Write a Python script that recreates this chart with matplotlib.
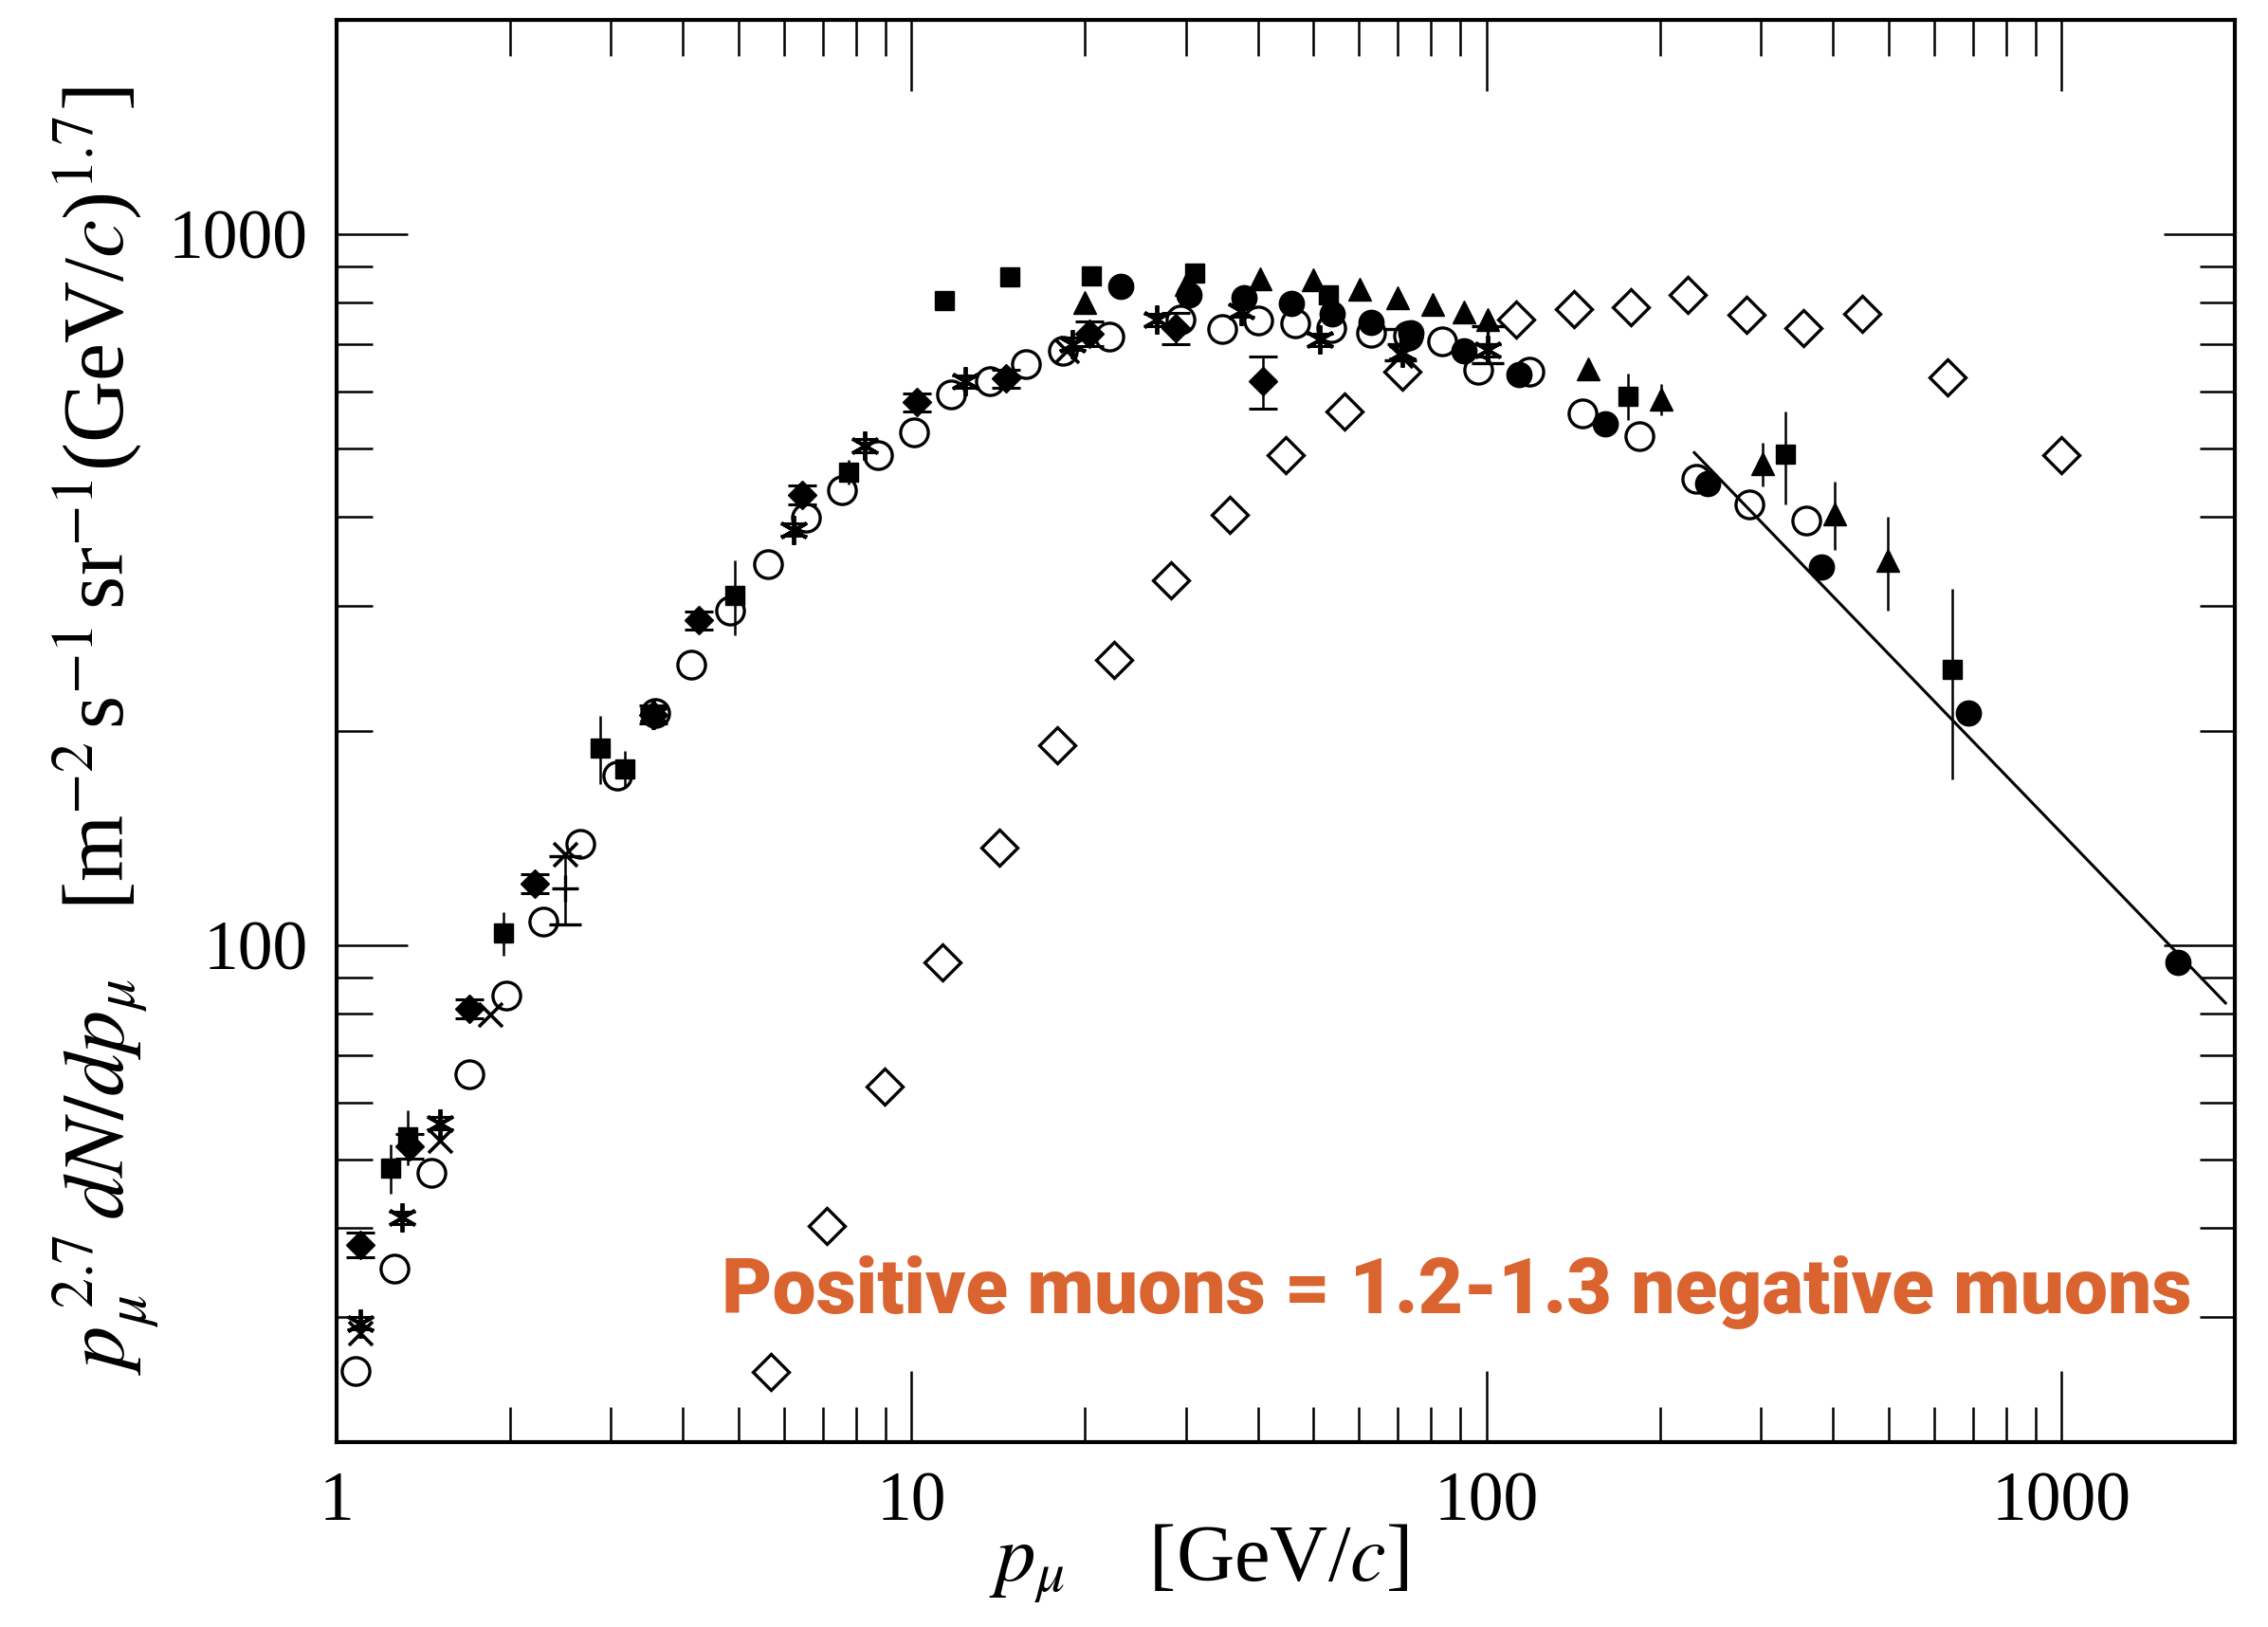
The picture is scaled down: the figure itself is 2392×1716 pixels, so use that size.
import numpy as np
import matplotlib
matplotlib.use("Agg")
import matplotlib.pyplot as plt
from matplotlib.ticker import LogLocator, NullFormatter

plt.rcParams['font.family'] = 'serif'
plt.rcParams['font.serif'] = ['Liberation Serif', 'DejaVu Serif']
plt.rcParams['mathtext.fontset'] = 'stix'

# open circles
oc_x = [1.08, 1.26, 1.46, 1.70, 1.97, 2.29, 2.65, 3.08, 3.58, 4.14, 4.84, 5.63, 6.54, 7.56, 8.74,
        10.1, 11.7, 13.7, 15.8, 18.3, 22.1, 29.3, 34.7, 40.1, 46.4, 53.6, 63.0, 72.9, 83.7, 96.8,
        118.6, 147, 184, 231, 286, 359]
oc_y = [25.2, 35.1, 47.9, 65.9, 84.9, 108, 139, 173, 212, 248, 295, 343, 399, 436, 488,
        526, 594, 620, 656, 684, 717, 758, 734, 755, 748, 737, 727, 720, 707, 644,
        641, 559, 519, 453, 416, 395]

# filled circles
fc_x = [23.1, 30.4, 37.9, 45.8, 53.9, 63.0, 73.7, 91.3, 113.9, 161, 242, 382, 687, 1591]
fc_y = [845, 821, 814, 798, 773, 751, 727, 684, 634, 541, 446, 340, 212, 94.5]

# filled squares (relative errors)
sq_x = [1.24, 1.33, 1.95, 2.87, 3.17, 4.92, 7.78, 11.4, 14.8, 20.5, 31.1, 53.0, 176, 331, 644]
sq_y = [48.6, 53.8, 104, 189, 177, 310, 463, 806, 869, 873, 881, 821, 591, 490, 244]
sq_err = [0.08, 0.09, 0.07, 0.11, 0.06, 0.12, 0.04, 0, 0, 0, 0, 0, 0.075, 0.15, 0.30]

# filled triangles
tr_x = [20.0, 30.0, 40.4, 50.0, 60.2, 70.0, 80.4, 91.3, 100.2, 150, 201, 302, 403, 499]
tr_y = [802, 849, 865, 861, 837, 814, 795, 776, 758, 647, 586, 475, 404, 348]
tr_err = [0.02, 0, 0, 0, 0, 0.03, 0, 0.02, 0.03, 0.03, 0.05, 0.07, 0.11, 0.15]

# open diamonds
od_x = [5.69, 7.13, 8.99, 11.3, 14.2, 17.9, 22.5, 28.3, 35.7, 44.8, 56.5, 71.2,
        112.5, 142, 178, 224, 283, 355, 450, 633, 1000]
od_y = [25.1, 40.3, 63.2, 94.5, 137, 191, 252, 326, 403, 488, 562, 641,
        758, 784, 788, 821, 769, 737, 773, 629, 488]

# filled diamonds with capped errors
fd_x = [1.10, 1.34, 1.70, 2.21, 3.56, 4.26, 6.46, 10.2, 14.6, 20.4, 28.8, 40.8]
fd_y = [37.9, 52.1, 81.4, 122, 211, 286, 430, 580, 626, 724, 737, 620]
fd_err = [0.04, 0.04, 0.03, 0.03, 0.03, 0.03, 0.03, 0.03, 0.03, 0.04, 0.05, 0.085]

# asterisks
as_x = [1.10, 1.30, 1.51, 3.56, 6.24, 8.29, 12.4, 19.0, 26.7, 37.4, 51.2, 71.2, 100.2]
as_y = [29.4, 41.4, 56.2, 211, 384, 504, 620, 700, 758, 780, 710, 681, 687]

# crosses
cx_x = [1.10, 1.51, 1.85, 2.50, 18.6, 70.8]
cx_y = [28.5, 53.1, 79.8, 134, 684, 675]

# plus with capped errors
pl_x = [2.50, 70.8, 100.2]
pl_y = [120, 700, 700]
pl_err = [0.11, 0.05, 0.06]

# power-law line
line_x = [229.6, 1926]
line_y = [492.6, 82.9]

xticks = [1, 10, 100, 1000]
xtick_labels = ['1', '10', '100', '1000']
yticks = [100, 1000]
ytick_labels = ['100', '1000']

fig = plt.figure(figsize=(23.92, 17.16), dpi=100)
ax = fig.add_axes([0.1484, 0.1136, 0.837, 0.8742])

ax.plot(line_x, line_y, 'k-', lw=2.2, zorder=2)

ax.errorbar(sq_x, sq_y, yerr=np.array(sq_y) * np.array(sq_err), fmt='s', ms=14,
            color='k', elinewidth=1.8, capsize=0, zorder=3)
ax.errorbar(tr_x, tr_y, yerr=np.array(tr_y) * np.array(tr_err), fmt='^', ms=17,
            color='k', elinewidth=1.8, capsize=0, zorder=3)
ax.errorbar(fd_x, fd_y, yerr=np.array(fd_y) * np.array(fd_err), fmt='D', ms=15,
            color='k', elinewidth=1.8, capsize=11, capthick=2.2, zorder=3)
ax.errorbar(as_x, as_y, yerr=np.array(as_y) * 0.02, fmt='none', ecolor='k',
            elinewidth=1.5, capsize=10, capthick=2.2, zorder=3)
ax.plot(as_x, as_y, ls='none', marker=(6, 2, 0), ms=22, mew=2.8, color='k', zorder=3)
ax.plot(cx_x, cx_y, ls='none', marker='x', ms=18, mew=2.6, color='k', zorder=3)
ax.errorbar(pl_x, pl_y, yerr=np.array(pl_y) * np.array(pl_err), fmt='+', ms=20, mew=2.4,
            color='k', elinewidth=1.8, capsize=12, capthick=2.2, zorder=3)
ax.plot(fc_x, fc_y, ls='none', marker='o', ms=19, color='k', zorder=4)
ax.plot(oc_x, oc_y, ls='none', marker='o', ms=21, mfc='none', mec='k', mew=2.4, zorder=5)
ax.plot(od_x, od_y, ls='none', marker='D', ms=19, mfc='none', mec='k', mew=2.4, zorder=5)

ax.set_xscale('log')
ax.set_yscale('log')
ax.set_xlim(1, 2000)
ax.set_ylim(20, 2000)
ax.set_xticks(xticks, xtick_labels)
ax.set_yticks(yticks, ytick_labels)
ax.xaxis.set_minor_locator(LogLocator(base=10, subs=np.arange(2, 10), numticks=50))
ax.yaxis.set_minor_locator(LogLocator(base=10, subs=np.arange(2, 10), numticks=50))
ax.xaxis.set_minor_formatter(NullFormatter())
ax.yaxis.set_minor_formatter(NullFormatter())
ax.tick_params(which='both', direction='in', top=True, right=True, width=1.8)
ax.tick_params(which='major', length=54, labelsize=53, pad=22)
ax.tick_params(which='minor', length=27)
for s in ax.spines.values():
    s.set_linewidth(3)

ax.set_xlabel(r'$p_{\mu}$    [GeV/$c$]', fontsize=61)
ax.xaxis.set_label_coords(0.454, -0.056)
ax.set_ylabel(r'$p_{\mu}^{\;2.7}\,dN/dp_{\mu}$   [m$^{-2}\,$s$^{-1}\,$sr$^{-1}$(GeV/$c$)$^{1.7}$]',
              fontsize=65)
ax.yaxis.set_label_coords(-0.0924, 0.5)

ax.text(0.977, 0.0905, 'Positive muons = 1.2-1.3 negative muons', transform=ax.transAxes,
        ha='right', va='baseline', color='#DA6430', fontsize=59, fontweight='black',
        family='Roboto', zorder=6)

fig.savefig('out.png', dpi=100)
